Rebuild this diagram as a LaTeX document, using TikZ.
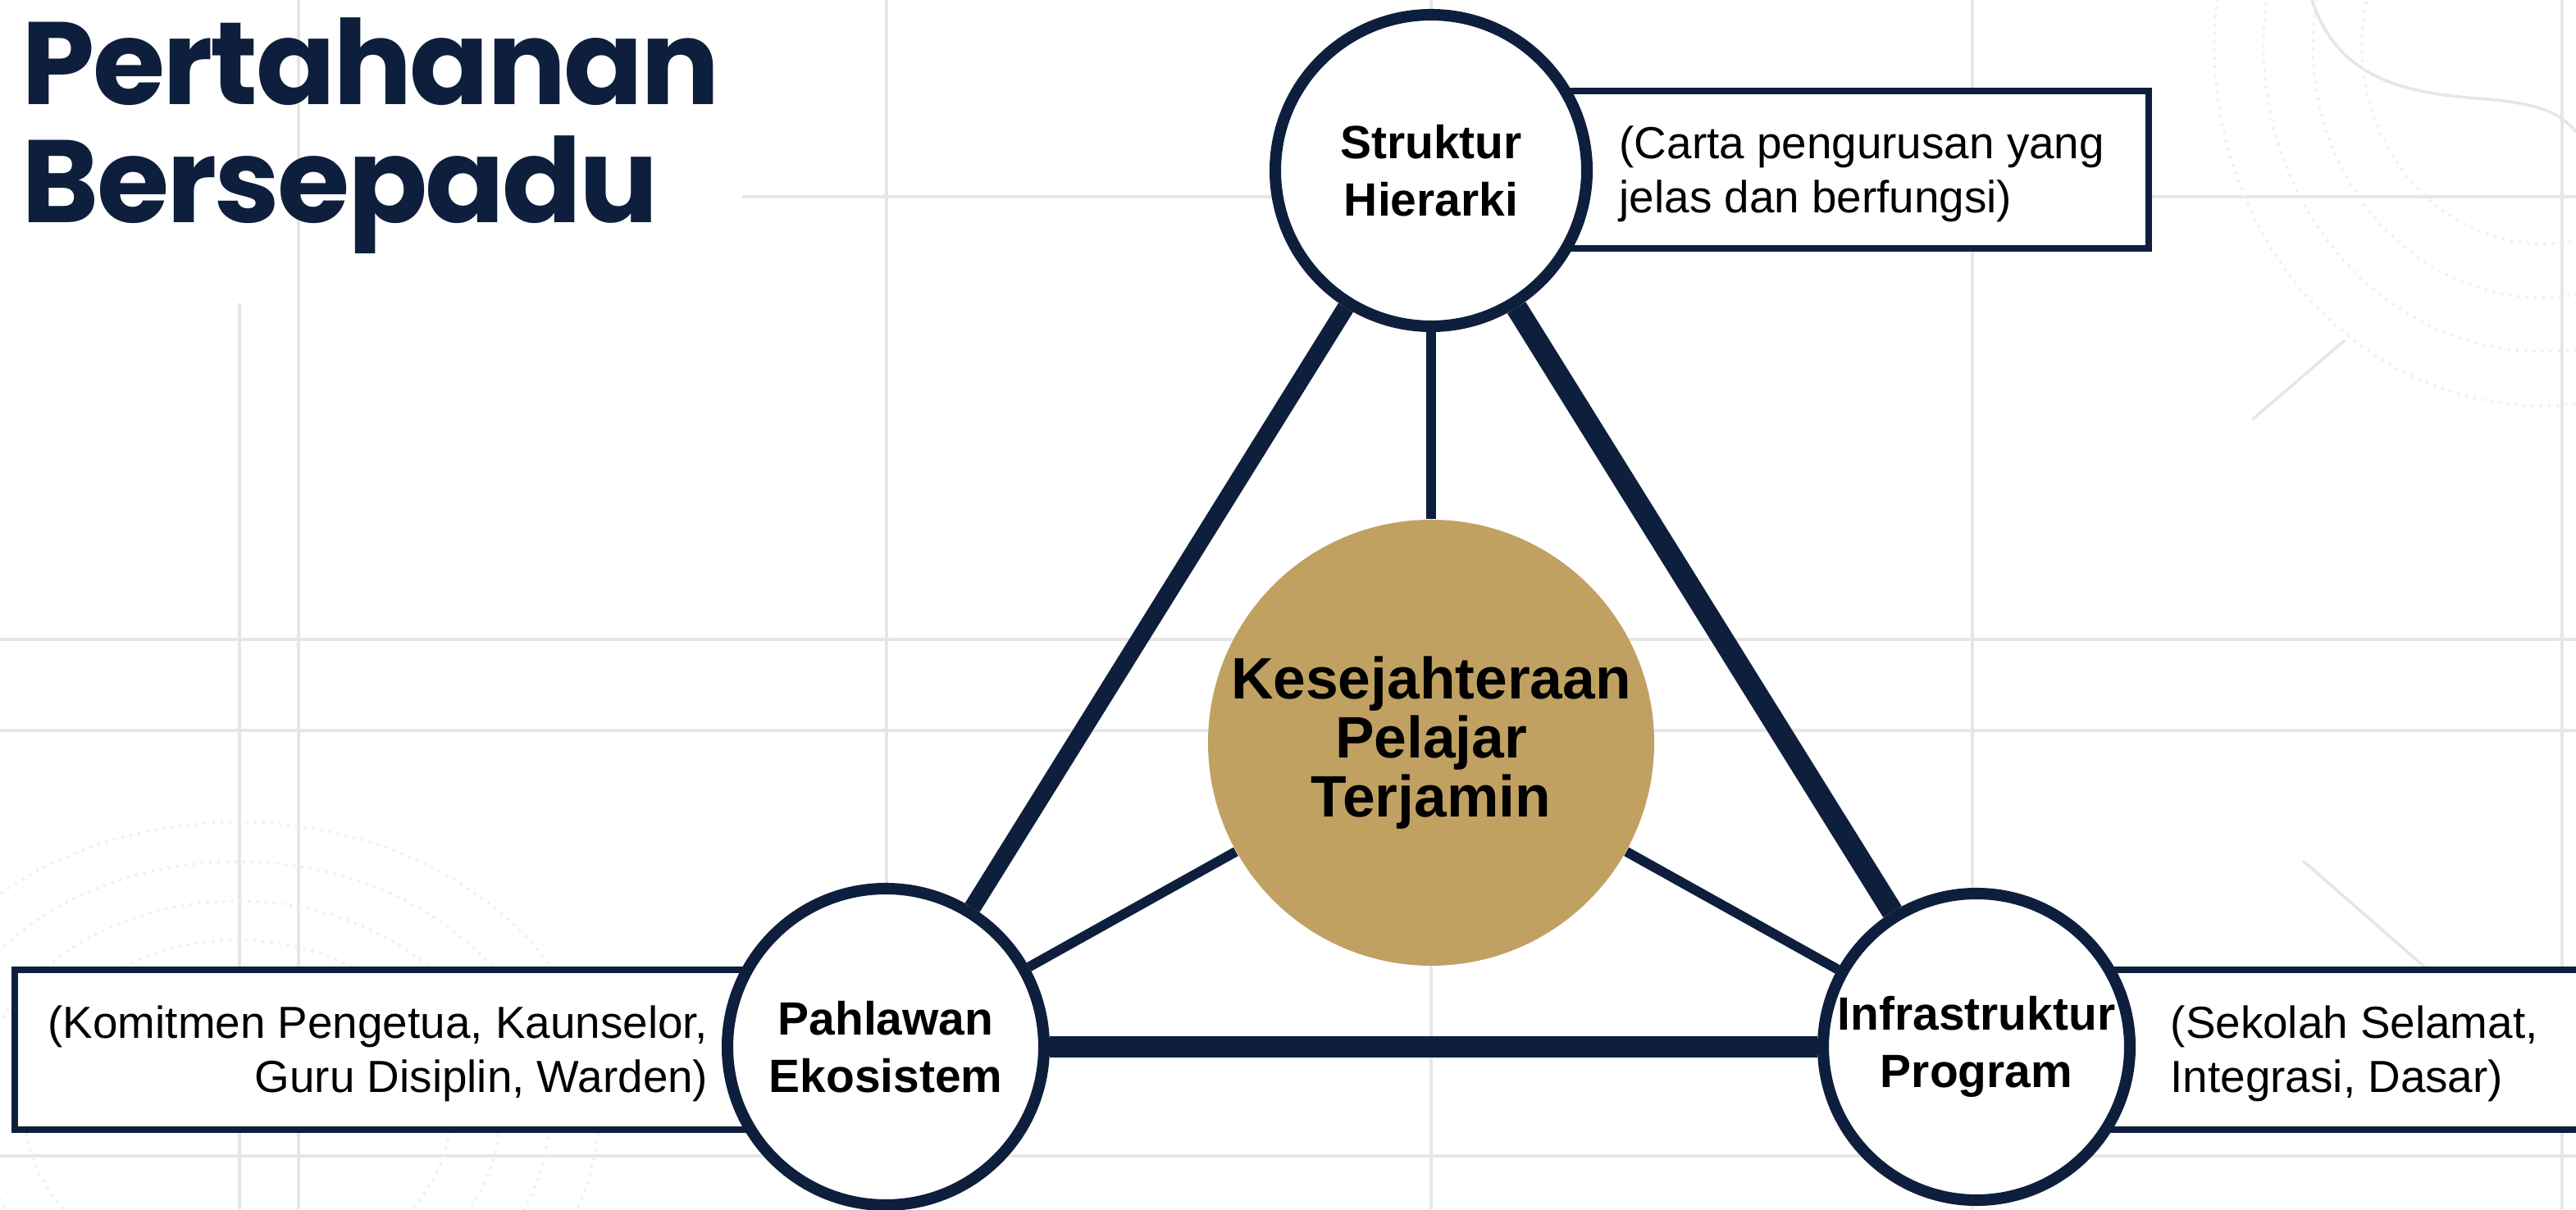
\documentclass[tikz,border=0pt]{standalone}
\usepackage{fontspec}
\setmainfont{Liberation Sans}
\newfontfamily\titlefont{Poppins}[LetterSpace=-2]

\definecolor{navy}{RGB}{14,31,61}
\definecolor{gold}{RGB}{192,161,98}
\definecolor{gridgray}{RGB}{230,230,230}

\tikzset{
  hub/.style={shape=circle, draw=navy, line width=4pt, fill=white, minimum size=3.8cm,
    inner sep=0pt, align=center, font=\fontsize{16.2}{19.9}\selectfont\bfseries},
  core/.style={shape=circle, fill=gold, minimum size=5.44cm, inner sep=0pt,
    align=center, font=\fontsize{20.3}{20.6}\selectfont\bfseries},
  infobox/.style={shape=rectangle, draw=navy, line width=2.4pt, fill=white, inner sep=0pt},
  note/.style={inner sep=0pt, font=\fontsize{15.6}{18.8}\selectfont},
  heading/.style={inner sep=0pt, anchor=base west, text=navy,
    font=\titlefont\fontsize{40.7}{41}\selectfont\bfseries},
  rim/.style={draw=navy, line width=7.5pt},
  spoke/.style={draw=navy, line width=3.4pt},
  faint/.style={draw=gridgray, line width=1pt}
}

\begin{document}
\begin{tikzpicture}
\useasboundingbox (0,0) rectangle (31.41,14.75);
\clip (0,0) rectangle (31.41,14.75);
\fill[white] (0,0) rectangle (31.41,14.75);

% background grid and contours
\foreach \gx in {3.64,10.81,17.45,24.05,31.24}
  \draw[faint] (\gx,0) -- (\gx,14.75);
\draw[faint] (2.92,0) -- (2.92,11.05);
\foreach \gy in {0.65,5.84,6.95}
  \draw[faint] (0,\gy) -- (31.41,\gy);
\draw[faint] (9.05,12.35) -- (31.41,12.35);
\draw[faint] (27.46,9.63) -- (28.59,10.60);
\draw[faint] (28.08,4.25) -- (29.57,2.95);
\draw[faint] (28.19,14.75) .. controls (28.5,13.8) and (29.3,13.62) .. (30.2,13.55)
  .. controls (30.9,13.5) and (31.2,13.4) .. (31.41,13.14);
\foreach \r in {2.6,3.2,3.8,4.4}
  \draw[gridgray!60, dotted, line width=0.9pt] (2.9,1.2) ellipse ({\r} and {0.8*\r});
\foreach \r in {2.2,2.8,3.4,4.0}
  \draw[gridgray!60, dotted, line width=0.9pt] (31.0,14.2) ellipse ({\r} and {1.1*\r});

% title
\node[heading] (titleA) at (0.26,13.47) {Pertahanan};
\node[heading] (titleB) at (0.26,12.03) {Bersepadu};

% boxes behind the circles
\node[infobox, minimum width=8.75cm, minimum height=1.92cm] (hierbox) at (21.825,12.68) {};
\node[infobox, minimum width=10.62cm, minimum height=1.95cm] (herobox) at (5.49,1.945) {};
\node[infobox, minimum width=7.70cm, minimum height=1.95cm] (infrabox) at (27.95,1.945) {};

\node[note, anchor=west, align=left] (hiernote) at (19.74,12.63)
  {(Carta pengurusan yang\\jelas dan berfungsi)};
\node[note, anchor=east, align=right] (heronote) at (8.64,1.90)
  {(Komitmen Pengetua, Kaunselor,\\Guru Disiplin, Warden)};
\node[note, anchor=west, align=left] (infranote) at (26.46,1.90)
  {(Sekolah Selamat,\\Integrasi, Dasar)};

% circles
\node[hub] (hier) at (17.45,12.67) {Struktur\\Hierarki};
\node[hub, minimum size=3.86cm] (hero) at (10.80,1.98) {Pahlawan\\Ekosistem};
\node[hub, minimum size=3.74cm] (infra) at (24.10,1.98) {Infrastruktur\\Program};
\node[core] (well) at (17.45,5.69) {Kesejahteraan\\Pelajar\\Terjamin};

\path
  (hier)  edge[rim, line width=6pt] (hero)
  (hier)  edge[rim]                 (infra)
  (hero)  edge[rim]                 (infra)
  (hier)  edge[spoke]               (well)
  (hero)  edge[spoke]               (well)
  (infra) edge[spoke]               (well);

\end{tikzpicture}
\end{document}
